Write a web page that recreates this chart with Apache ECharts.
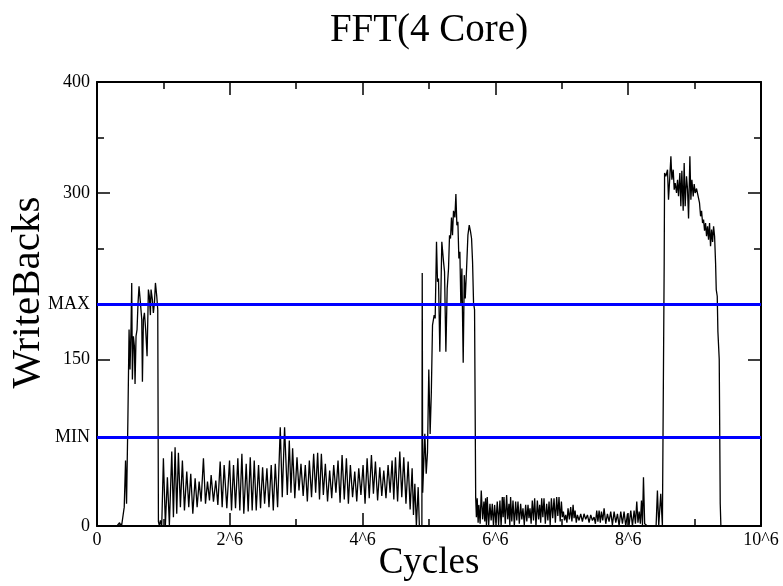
<!DOCTYPE html>
<html><head><meta charset="utf-8">
<script src="https://cdn.jsdelivr.net/npm/echarts@6/dist/echarts.min.js"></script>
<style>html,body{margin:0;padding:0;background:#fff}#c{width:783px;height:586px}</style>
</head><body><div id="c"></div>
<script>
// Cycles (x, in units of 10^6 as labelled) and WriteBacks values
const cycles = [
0,0.30,0.33,0.34,0.35,0.36,0.37,0.40,0.41,0.43,0.445,0.465,0.483,
0.497,0.513,0.523,0.533,0.548,0.563,0.573,0.588,0.603,0.618,0.633,0.654,0.674,0.684,0.699,0.714,0.734,0.754,0.774,0.789,0.804,0.814,0.834,0.849,0.865,0.880,0.900,0.915,0.925,
0.94,0.955,0.975,
1.000,1.030,1.060,1.090,1.126,1.151,1.176,1.201,1.226,1.256,1.286,1.317,1.352,1.382,1.412,1.443,1.478,1.508,1.538,1.568,1.603,1.634,1.664,1.694,1.719,1.754,1.789,1.820,1.855,1.885,1.915,1.955,1.996,2.026,2.056,2.086,2.121,2.151,2.182,2.211,2.247,2.277,2.308,2.337,2.368,2.398,2.433,2.463,2.494,2.524,2.559,2.590,2.624,2.655,2.685,2.720,2.760,2.790,2.825,
2.866,2.896,2.921,2.946,2.979,3.012,3.042,3.072,3.105,3.137,3.168,3.198,3.231,3.263,3.293,3.323,3.351,3.379,3.409,3.439,3.472,3.504,3.535,3.565,3.598,3.630,3.661,3.691,3.724,3.756,3.786,3.816,3.849,3.882,3.912,3.942,3.975,4.007,4.037,4.068,4.100,4.133,4.163,4.193,4.226,4.259,4.289,4.319,4.352,4.384,4.414,4.444,4.470,4.495,4.527,4.560,4.590,4.620,4.653,4.686,4.716,4.746,4.766,4.787,4.810,4.837,4.855,4.893,
4.898,4.905,4.937,4.958,4.977,4.997,5.017,5.035,5.053,5.078,5.093,5.113,5.128,5.143,5.163,5.193,5.219,5.234,5.254,5.274,5.294,5.309,5.324,5.339,5.354,5.369,5.390,5.405,5.420,5.435,5.450,5.465,5.480,5.495,5.515,5.531,5.546,5.566,5.586,5.606,5.626,5.641,5.656,5.671,5.686,5.703,
5.714,5.726,5.740,5.751,5.770,5.787,5.808,5.827,5.840,5.852,5.865,5.877,5.898,5.918,5.936,5.953,5.971,5.988,6.008,6.028,6.048,6.068,6.086,6.104,6.117,6.129,6.149,6.169,6.186,6.204,6.217,6.229,6.247,6.265,6.285,6.305,6.322,6.340,6.360,6.380,6.398,6.415,6.435,6.456,6.473,6.491,6.506,6.521,6.538,6.556,6.574,6.591,6.611,6.632,6.650,6.667,6.682,6.697,6.715,6.732,6.752,6.772,6.790,6.808,6.825,6.843,6.863,6.883,6.903,6.923,6.940,6.958,6.976,6.994,
7.009,7.024,7.041,7.059,7.077,7.094,7.114,7.134,7.152,7.170,7.185,7.200,7.218,7.235,7.260,7.285,7.310,7.335,7.360,7.386,7.411,7.436,7.461,7.486,7.506,7.526,7.544,7.562,7.580,7.597,7.617,7.637,7.662,7.687,7.712,7.737,7.762,7.788,7.813,7.838,7.863,7.888,7.913,7.938,7.963,7.989,8.014,8.039,8.064,8.089,8.109,8.129,8.147,8.165,8.183,8.200,8.215,8.230,8.248,8.290,
8.420,8.440,8.460,8.490,8.515,8.535,8.542,8.548,
8.567,8.592,8.607,8.627,8.643,8.658,8.678,8.693,8.708,8.728,8.743,8.758,8.778,8.793,8.808,8.828,8.843,8.858,8.878,8.894,8.909,8.929,8.944,8.959,8.979,8.994,9.009,9.029,9.044,9.059,9.074,9.090,9.105,9.120,9.135,9.150,9.165,9.180,9.195,9.210,9.225,9.240,9.256,9.271,9.286,9.301,9.316,9.326,9.341,9.351,9.361,9.371,9.386,9.396,
10.0
];
const writeBacks = [
0,0,0,3,0,2,0,0,17,59,20,95,177,
141,180,219,132,171,162,128,171,177,201,216,201,186,130,186,192,176,153,213,207,190,213,204,192,201,219,207,195,4,
0,5,0,
61,1,44,1,67,8,71,11,66,17,59,14,49,17,47,11,43,17,40,22,61,20,40,23,46,22,41,19,58,17,55,16,59,14,55,16,61,14,65,11,56,13,62,14,59,14,55,16,53,20,52,17,55,14,56,17,89,26,89,
28,77,30,70,25,62,32,56,27,55,22,59,26,65,30,66,24,65,28,56,22,50,25,55,30,59,21,64,24,61,20,55,26,49,22,52,28,55,20,61,25,64,29,58,23,53,27,50,25,55,30,59,24,62,22,67,26,62,20,58,15,52,10,38,0,35,0,0,
228,30,83,47,66,141,83,120,181,190,187,256,220,223,157,256,238,229,157,214,232,262,259,278,262,284,278,299,271,274,241,247,199,232,147,226,205,232,262,271,265,259,238,201,195,26,
8,25,3,19,2,32,6,22,4,25,1,26,0,20,5,20,0,19,3,22,1,23,0,26,8,26,2,28,6,20,1,26,4,23,0,22,5,22,2,20,6,16,1,19,4,19,7,16,2,23,5,25,0,23,6,19,3,25,8,25,2,20,5,22,1,25,7,25,3,26,9,26,4,22,
8,13,5,10,3,16,6,17,4,19,7,14,3,10,5,11,4,11,6,10,3,10,5,8,2,14,4,14,3,13,5,16,2,11,4,13,1,13,3,11,0,13,2,13,0,11,1,14,0,14,2,22,3,13,2,23,1,44,2,0,
0,32,0,29,0,0,237,318,
315,321,294,315,333,312,321,303,309,300,312,297,318,288,320,284,327,288,315,303,277,333,294,312,297,308,300,304,303,303,291,279,284,273,276,266,273,261,270,258,273,252,267,256,270,261,237,213,207,175,174,150,20,0,
0
];
const yTickValues = [0, 80, 150, 200, 300, 400];
const yTickLabels = ['0', 'MIN', '150', 'MAX', '300', '400'];
const yMinorTicks = [250, 350];
const xTickLabels = ['0', '2^6', '4^6', '6^6', '8^6', '10^6'];
const refLevels = [200, 80]; // MAX, MIN

const font = 'Liberation Serif';
const chart = echarts.init(document.getElementById('c'), null, {renderer: 'canvas'});
const data = cycles.map((x, i) => [x, writeBacks[i]]);
const axisLineStyle = {color: '#000', width: 2};
const tickStyle = {color: '#000', width: 1.5};

function xAx(pos, main) {
  const a = {
    type: 'value', min: 0, max: 10, interval: 2, position: pos,
    axisLine: {show: true, onZero: false, lineStyle: axisLineStyle},
    axisTick: {show: true, inside: true, length: 13, lineStyle: tickStyle},
    minorTick: {show: true, splitNumber: 2, length: 7, lineStyle: tickStyle},
    splitLine: {show: false}, minorSplitLine: {show: false},
    axisLabel: {show: false}
  };
  if (main) {
    a.name = 'Cycles'; a.nameLocation = 'middle'; a.nameGap = 19; a.nameMoveOverlap = false;
    a.nameTextStyle = {fontFamily: font, fontSize: 37, color: '#000'};
    a.axisLabel = {show: true, fontFamily: font, fontSize: 18, color: '#000', margin: 5,
      showMinLabel: true, showMaxLabel: true,
      formatter: v => xTickLabels[Math.round(v / 2)]};
  }
  return a;
}
function yAx(pos, ticks, len, main, line) {
  const a = {
    type: 'value', min: 0, max: 400, position: pos,
    axisLine: {show: line, onZero: false, lineStyle: axisLineStyle},
    axisTick: {show: true, inside: true, length: len, lineStyle: tickStyle, customValues: ticks},
    splitLine: {show: false},
    axisLabel: {show: false}
  };
  if (main) {
    a.name = 'WriteBacks'; a.nameLocation = 'middle'; a.nameGap = 48; a.nameRotate = 90;
    a.nameMoveOverlap = false;
    a.nameTextStyle = {fontFamily: font, fontSize: 41, color: '#000', padding: [0, 0, 0, 23]};
    a.axisLabel = {show: true, fontFamily: font, fontSize: 18, color: '#000', margin: 7,
      customValues: yTickValues,
      formatter: v => yTickLabels[yTickValues.indexOf(v)]};
  }
  return a;
}

chart.setOption({
  animation: false,
  backgroundColor: '#fff',
  title: {text: 'FFT(4 Core)', left: 429, top: 11, padding: 0, textAlign: 'center',
    textStyle: {fontFamily: font, fontSize: 39, fontWeight: 'normal', color: '#000'}},
  grid: {left: 97, right: 22, top: 82, bottom: 60, containLabel: false, outerBoundsMode: 'none'},
  xAxis: [xAx('bottom', true), xAx('top', false)],
  yAxis: [
    yAx('left', yTickValues, 13, true, true),
    yAx('left', yMinorTicks, 7, false, false),
    yAx('right', yTickValues, 13, false, true),
    yAx('right', yMinorTicks, 7, false, false)
  ],
  series: [{
    type: 'line', data: data, xAxisIndex: 0, yAxisIndex: 0,
    symbol: 'none', showSymbol: false,
    lineStyle: {color: '#000', width: 1.3},
    markLine: {silent: true, symbol: ['none', 'none'], label: {show: false},
      lineStyle: {color: '#0000ff', width: 3, type: 'solid'},
      data: refLevels.map(v => ({yAxis: v}))}
  }]
});
</script>
</body></html>
